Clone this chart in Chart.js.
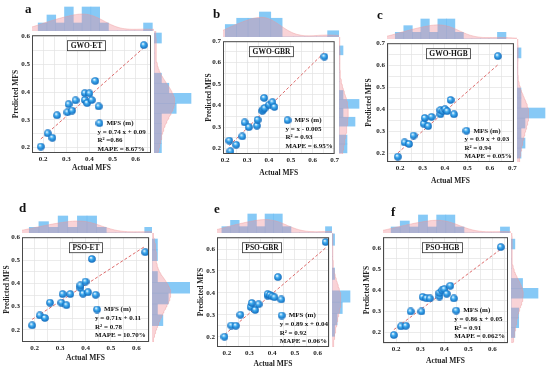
<!DOCTYPE html>
<html>
<head>
<meta charset="utf-8">
<script src="https://cdn.jsdelivr.net/npm/chart.js@4.4.1/dist/chart.umd.min.js"></script>
<style>
  body { margin: 0; background: #fff; }
  #page { position: relative; width: 550px; height: 371px; overflow: hidden; font-family: "Liberation Serif", serif; }
  #page canvas { position: absolute; }
  .tag { position: absolute; font-weight: bold; font-size: 13px; line-height: 13px; color: #111; }
</style>
</head>
<body>
<div id="page"></div>
<script>
// measured values (MFS, m)
const actualMFS = [0.19, 0.22, 0.24, 0.26, 0.305, 0.31, 0.325, 0.34, 0.38, 0.38, 0.39, 0.40, 0.41, 0.425, 0.44, 0.635];
const actualGbr = [0.219, 0.224, 0.25, 0.278, 0.289, 0.308, 0.345, 0.348, 0.37, 0.375, 0.378, 0.38, 0.401, 0.416, 0.425, 0.653];

// predicted values per model
const predGwoEt  = [0.203, 0.251, 0.235, 0.316, 0.327, 0.356, 0.333, 0.370, 0.396, 0.371, 0.36, 0.395, 0.371, 0.44, 0.348, 0.569];
const predGwoGbr = [0.237, 0.188, 0.218, 0.257, 0.322, 0.30, 0.307, 0.334, 0.376, 0.383, 0.436, 0.388, 0.404, 0.416, 0.394, 0.628];
const predGwoHgb = [0.184, 0.249, 0.242, 0.28, 0.334, 0.36, 0.323, 0.365, 0.377, 0.396, 0.391, 0.40, 0.391, 0.442, 0.377, 0.641];
const predPsoEt  = [0.219, 0.262, 0.251, 0.317, 0.317, 0.354, 0.306, 0.354, 0.381, 0.392, 0.356, 0.408, 0.362, 0.506, 0.351, 0.535];
const predPsoGbr = [0.20, 0.251, 0.250, 0.30, 0.336, 0.354, 0.322, 0.348, 0.387, 0.394, 0.39, 0.384, 0.38, 0.472, 0.37, 0.632];
const predPsoHgb = [0.188, 0.229, 0.232, 0.30, 0.30, 0.369, 0.363, 0.362, 0.371, 0.388, 0.40, 0.406, 0.384, 0.422, 0.362, 0.606];

const panelTags  = ['a', 'b', 'c', 'd', 'e', 'f'];
const modelNames = ['GWO-ET', 'GWO-GBR', 'GWO-HGB', 'PSO-ET', 'PSO-GBR', 'PSO-HGB'];
const eqLabels   = ['y = 0.74 x + 0.09', 'y = x - 0.005', 'y = 0.9 x + 0.03', 'y = 0.71x + 0.11', 'y = 0.89 x + 0.04', 'y = 0.86 x + 0.05'];
const r2Labels   = ['R\u00b2 =0.86', 'R\u00b2 = 0.93', 'R\u00b2 = 0.94', 'R\u00b2 = 0.78', 'R\u00b2 = 0.92', 'R\u00b2 = 0.91'];
const mapeLabels = ['MAPE = 8.67%', 'MAPE = 6.95%', 'MAPE = 0.05%', 'MAPE = 10.70%', 'MAPE = 0.06%', 'MAPE = 0.062%'];
const fitSlope     = [0.74, 1, 0.9, 0.71, 0.89, 0.86];
const fitIntercept = [0.09, -0.005, 0.03, 0.11, 0.04, 0.05];

const xSeries = [actualMFS, actualGbr, actualMFS, actualMFS, actualMFS, actualMFS];
const ySeries = [predGwoEt, predGwoGbr, predGwoHgb, predPsoEt, predPsoGbr, predPsoHgb];

// layout of each panel (plot box in page pixels, axis ranges, marginals)
const layouts = [
  { box: [32, 31, 154, 153], xr: [0.152, 0.666], yr: [0.18, 0.605], xl: [0.2, 0.6], yl: [0.2, 0.6], xGap: 15, yGap: 15,
    topY: 0, topPx: 24, rightW: 38, rightPx: 37, titleAt: 0.45, legAt: 0.55, legBottom: 4,
    xBin: [0.178, 0.037], yBin: [0.178, 0.035], tag: [25, 2] },
  { box: [223, 37, 339, 154], xr: [0.19, 0.70], yr: [0.175, 0.70], xl: [0.2, 0.7], yl: [0.2, 0.7], xGap: 19, yGap: 13,
    topY: 0, topPx: 25, rightW: 30, rightPx: 20, titleAt: 0.43, legAt: 0.56, legBottom: 8,
    xBin: [0.2, 0.05], yBin: [0.18, 0.04], tag: [213, 7] },
  { box: [387, 39, 517, 162], xr: [0.142, 0.707], yr: [0.16, 0.70], xl: [0.2, 0.7], yl: [0.2, 0.7], xGap: 19, yGap: 17,
    topY: 0, topPx: 20, rightW: 33, rightPx: 28, titleAt: 0.485, legAt: 0.61, legBottom: 5.5,
    xBin: [0.178, 0.037], yBin: [0.177, 0.044], tag: [377, 8] },
  { box: [22, 233, 152, 342], xr: [0.15, 0.65], yr: [0.147, 0.60], xl: [0.2, 0.6], yl: [0.2, 0.6], xGap: 16, yGap: 14,
    topY: 195, topPx: 17, rightW: 38, rightPx: 38, titleAt: 0.5, legAt: 0.575, legBottom: 6.7,
    xBin: [0.178, 0.037], yBin: [0.215, 0.045], tag: [19, 201] },
  { box: [217, 233, 332, 347], xr: [0.157, 0.65], yr: [0.153, 0.654], xl: [0.2, 0.6], yl: [0.2, 0.6], xGap: 17, yGap: 15,
    topY: 195, topPx: 19, rightW: 30, rightPx: 18, titleAt: 0.4, legAt: 0.56, legBottom: 5.7,
    xBin: [0.178, 0.037], yBin: [0.2, 0.05], tag: [214, 202] },
  { box: [383, 233, 511, 343], xr: [0.145, 0.665], yr: [0.15, 0.653], xl: [0.2, 0.6], yl: [0.2, 0.6], xGap: 18, yGap: 15,
    topY: 195, topPx: 18, rightW: 38, rightPx: 27, titleAt: 0.47, legAt: 0.57, legBottom: 6.6,
    xBin: [0.178, 0.037], yBin: [0.175, 0.045], tag: [391, 205] }
];

const SERIF = '"Liberation Serif", "Times New Roman", serif';
Chart.defaults.font.family = SERIF;
Chart.defaults.font.weight = 'bold';
Chart.defaults.color = '#222';

const BAR_BLUE = 'rgba(104, 188, 244, 0.8)';
const KDE_FILL = 'rgba(240, 140, 150, 0.38)';
const KDE_LINE = 'rgba(238, 150, 150, 0.5)';

const page = document.getElementById('page');

function makeCanvas(left, top, w, h) {
  const c = document.createElement('canvas');
  c.width = w; c.height = h;
  c.style.left = left + 'px'; c.style.top = top + 'px';
  c.style.width = w + 'px'; c.style.height = h + 'px';
  page.appendChild(c);
  return c;
}

function makeSphere(d) {
  const c = document.createElement('canvas');
  c.width = c.height = d;
  const g = c.getContext('2d');
  const r = d / 2;
  const grad = g.createRadialGradient(r * 0.75, r * 0.65, r * 0.1, r, r, r);
  grad.addColorStop(0, '#eaf7ff');
  grad.addColorStop(0.35, '#40adf0');
  grad.addColorStop(1, '#0a62b6');
  g.fillStyle = grad;
  g.beginPath(); g.arc(r, r, r - 0.2, 0, Math.PI * 2); g.fill();
  return c;
}
const sphere = makeSphere(8);

function histogram(vals, start, w) {
  const idx = vals.map(v => Math.floor((v - start) / w + 1e-9));
  const counts = new Array(Math.max(...idx) + 1).fill(0);
  idx.forEach(k => counts[k]++);
  return counts.map((c, k) => ({ center: start + (k + 0.5) * w, count: c }));
}

function kde(vals, lo, hi, binW) {
  const n = vals.length;
  const mean = vals.reduce((a, b) => a + b, 0) / n;
  const sd = Math.sqrt(vals.reduce((a, v) => a + (v - mean) ** 2, 0) / (n - 1));
  const h = 1.06 * sd * Math.pow(n, -0.2);
  const out = [];
  for (let k = 0; k <= 90; k++) {
    const v = lo + (hi - lo) * k / 90;
    let s = 0;
    for (const u of vals) { const z = (v - u) / h; s += Math.exp(-z * z / 2); }
    out.push({ v, d: s * binW / (h * Math.sqrt(2 * Math.PI)) });
  }
  return out;
}

function gridTicks(min, max) {
  const out = [];
  for (let k = Math.ceil(min * 20 - 1e-6); k <= Math.floor(max * 20 + 1e-6); k++) out.push({ value: k / 20 });
  return out;
}
const tickLabel = (lo, hi) => v => {
  const k = Math.round(v * 20);
  return (k % 2 === 0 && v > lo - 1e-6 && v < hi + 1e-6) ? (k / 20).toFixed(1) : '';
};

function drawMain(i) {
  const L = layouts[i];
  const [l, t, r, b] = L.box;
  const yW = Math.round(L.yGap + 5.5), xH = Math.round(L.xGap + 5.5);
  const cv = makeCanvas(l - yW, t - 2, (r - l) + yW + 2, (b - t) + 2 + xH);
  const xs = xSeries[i], ys = ySeries[i];
  const pts = xs.map((v, k) => ({ x: v, y: ys[k] }));
  const x0 = Math.min(...xs), x1 = Math.max(...xs);
  const fit = [x0, x1].map(v => ({ x: v, y: fitSlope[i] * v + fitIntercept[i] }));

  const overlay = {
    id: 'overlay',
    afterDraw(chart) {
      const { ctx, chartArea: a } = chart;
      const w = a.right - a.left;
      ctx.save();
      ctx.strokeStyle = '#4a4a4a'; ctx.lineWidth = 1;
      ctx.strokeRect(a.left + 0.5, a.top + 0.5, w - 1, a.bottom - a.top - 1);

      // model name box
      ctx.font = 'bold 7.5px ' + SERIF;
      const tw = ctx.measureText(modelNames[i]).width;
      const cx = a.left + L.titleAt * w;
      const bx = Math.round(cx - tw / 2 - 3) + 0.5, by = a.top + 5.5, bw = Math.round(tw + 6), bh = 10;
      ctx.fillStyle = '#fff'; ctx.fillRect(bx, by, bw, bh);
      ctx.strokeStyle = '#333'; ctx.lineWidth = 0.8; ctx.strokeRect(bx, by, bw, bh);
      ctx.fillStyle = '#111'; ctx.textAlign = 'center'; ctx.textBaseline = 'middle';
      ctx.fillText(modelNames[i], bx + bw / 2, by + bh / 2 + 0.5);

      // legend block
      const lx = a.left + L.legAt * w;
      const step = 8.6;
      const ly0 = a.bottom - L.legBottom - 3 * step;
      ctx.drawImage(sphere, lx - 2, ly0 - 4);
      ctx.font = 'bold 7px ' + SERIF;
      ctx.textAlign = 'left';
      ctx.fillText('MFS (m)', lx + 9, ly0);
      ctx.fillText(eqLabels[i], lx, ly0 + step);
      ctx.fillText(r2Labels[i], lx, ly0 + 2 * step);
      ctx.fillText(mapeLabels[i], lx, ly0 + 3 * step);
      ctx.restore();
    }
  };

  const axisCommon = {
    type: 'linear',
    grid: { color: '#e3e3e3', lineWidth: 0.7, drawTicks: false },
    border: { display: false },
    title: { display: true, font: { size: 7.5, weight: 'bold' }, padding: { top: 1, bottom: 1 }, color: '#222' }
  };

  new Chart(cv, {
    type: 'scatter',
    data: {
      datasets: [
        { data: pts, pointStyle: sphere, pointRadius: 4, order: 0 },
        { type: 'line', data: fit, borderColor: '#dd6b6b', borderWidth: 1, borderDash: [3, 2], pointRadius: 0, fill: false, order: 1 }
      ]
    },
    options: {
      responsive: false, animation: false, events: [],
      layout: { padding: { top: 2, right: 2, left: 0, bottom: 0 } },
      plugins: { legend: { display: false }, tooltip: { enabled: false } },
      scales: {
        x: Object.assign({}, axisCommon, {
          min: L.xr[0], max: L.xr[1],
          afterBuildTicks: s => { s.ticks = gridTicks(L.xr[0], L.xr[1]); },
          afterFit: s => { s.height = xH; },
          ticks: { autoSkip: false, maxRotation: 0, padding: 2, font: { size: 7, weight: 'bold' }, callback: tickLabel(L.xl[0], L.xl[1]) },
          title: Object.assign({}, axisCommon.title, { text: 'Actual MFS' })
        }),
        y: Object.assign({}, axisCommon, {
          min: L.yr[0], max: L.yr[1],
          afterBuildTicks: s => { s.ticks = gridTicks(L.yr[0], L.yr[1]); },
          afterFit: s => { s.width = yW; },
          ticks: { autoSkip: false, padding: 2, font: { size: 7, weight: 'bold' }, callback: tickLabel(L.yl[0], L.yl[1]) },
          title: Object.assign({}, axisCommon.title, { text: 'Predicted MFS' })
        })
      }
    },
    plugins: [overlay]
  });
}

function drawTop(i) {
  const L = layouts[i];
  const [l, t, r] = L.box;
  const h = t - L.topY;
  const cv = makeCanvas(l, L.topY, r - l, h);
  const hist = histogram(xSeries[i], L.xBin[0], L.xBin[1]);
  const maxC = Math.max(...hist.map(d => d.count));
  const yMax = h * maxC / L.topPx;
  const dens = kde(xSeries[i], L.xr[0], L.xr[1], L.xBin[1]);
  new Chart(cv, {
    type: 'bar',
    data: {
      datasets: [
        { type: 'line', data: dens.map(p => ({ x: p.v, y: p.d })), fill: 'origin', backgroundColor: KDE_FILL,
          borderColor: KDE_LINE, borderWidth: 0.8, pointRadius: 0, order: 0 },
        { type: 'bar', data: hist.map(d => ({ x: d.center, y: d.count })), backgroundColor: BAR_BLUE,
          barPercentage: 1, categoryPercentage: 1, borderWidth: 0, order: 1 }
      ]
    },
    options: {
      responsive: false, animation: false, events: [],
      layout: { padding: 0 },
      plugins: { legend: { display: false }, tooltip: { enabled: false } },
      scales: {
        x: { type: 'linear', min: L.xr[0], max: L.xr[1], display: false, offset: false },
        y: { type: 'linear', min: 0, max: yMax, display: false }
      }
    }
  });
}

function drawRight(i) {
  const L = layouts[i];
  const [, t, r, b] = L.box;
  const cv = makeCanvas(r, t, L.rightW, b - t);
  const hist = histogram(ySeries[i], L.yBin[0], L.yBin[1]);
  const maxC = Math.max(...hist.map(d => d.count));
  const xMax = L.rightW * maxC / L.rightPx;
  const dens = kde(ySeries[i], L.yr[0], L.yr[1], L.yBin[1]);
  new Chart(cv, {
    type: 'bar',
    data: {
      datasets: [
        { type: 'line', data: dens.map(p => ({ x: p.d, y: p.v })), fill: 'origin', backgroundColor: KDE_FILL,
          borderColor: KDE_LINE, borderWidth: 0.8, pointRadius: 0, order: 0 },
        { type: 'bar', data: hist.map(d => ({ x: d.count, y: d.center })), backgroundColor: BAR_BLUE,
          barPercentage: 1, categoryPercentage: 1, borderWidth: 0, order: 1 }
      ]
    },
    options: {
      indexAxis: 'y',
      responsive: false, animation: false, events: [],
      layout: { padding: 0 },
      plugins: { legend: { display: false }, tooltip: { enabled: false } },
      scales: {
        x: { type: 'linear', min: 0, max: xMax, display: false },
        y: { type: 'linear', min: L.yr[0], max: L.yr[1], display: false, offset: false }
      }
    }
  });
}

for (let i = 0; i < layouts.length; i++) {
  drawTop(i);
  drawRight(i);
}
for (let i = 0; i < layouts.length; i++) {
  drawMain(i);
  const tag = document.createElement('div');
  tag.className = 'tag';
  tag.textContent = panelTags[i];
  tag.style.left = layouts[i].tag[0] + 'px';
  tag.style.top = layouts[i].tag[1] + 'px';
  page.appendChild(tag);
}
</script>
</body>
</html>
